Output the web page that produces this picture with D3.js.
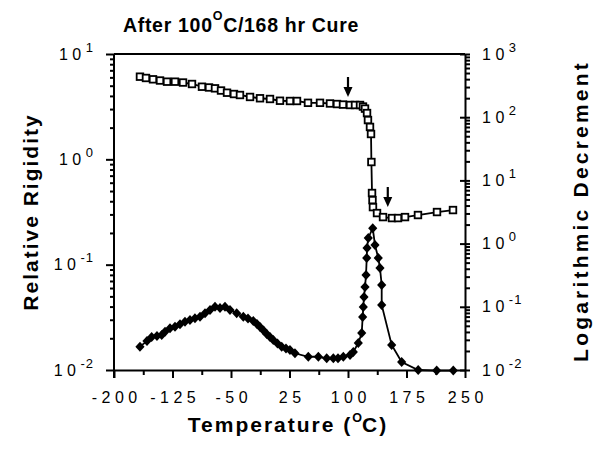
<!DOCTYPE html>
<html>
<head>
<meta charset="utf-8">
<script src="https://cdn.jsdelivr.net/npm/d3@7"></script>
<style>
  body { margin: 0; background: #fff; }
  text { font-family: "Liberation Sans", Arial, Helvetica, sans-serif; fill: #000; }
</style>
</head>
<body>
<script>
// relative rigidity - open squares, left axis
const rigidityTemp = [-166.7, -159, -150, -141, -132, -121.8, -111.5, -100, -87.2, -78.2, -70.5, -62.8, -55.1, -46.2,
  -38.5, -25.6, -12.8, 0, 12.8, 25.6, 34.6, 48.7, 64.1, 76.9, 85.9, 93.6, 102.6, 109, 115.4, 119.2, 121.8,
  124.4, 125.6, 128.2, 129.5, 130, 130.8, 131.4, 132, 137.2, 144.9, 156.4, 164.1, 173.1, 189.7, 214.1, 234.6];
const rigidityValue = [6.09, 5.92, 5.75, 5.6, 5.46, 5.46, 5.36, 5.19, 4.89, 4.81, 4.72, 4.5, 4.29, 4.17,
  4.08, 3.91, 3.8, 3.74, 3.6, 3.58, 3.58, 3.44, 3.44, 3.39, 3.35, 3.31, 3.28, 3.28, 3.28, 3.17, 3.03,
  2.75, 2.36, 2.03, 1.74, 0.943, 0.479, 0.41, 0.352, 0.309, 0.283, 0.277, 0.277, 0.283, 0.296, 0.316, 0.33];

// logarithmic decrement - filled diamonds, right axis
const decrementTemp = [-166.7, -157.7, -151.7, -144.9, -138.8, -134.6, -128.2, -121.8, -115.4, -109, -102.6, -96.2,
  -89.7, -83.3, -76.9, -70.5, -64.1, -57.7, -51.3, -42.7, -34.2, -28.2, -21.4, -16.7, -12.8, -8.3, -4.2, 0,
  4.2, 9.6, 15, 20.5, 25.6, 32, 49.1, 62, 72.7, 81.2, 87.2, 94, 102.6, 106.8, 113.2, 117.6, 118.8, 119.6,
  120.5, 121.8, 123.1, 124, 124.4, 126, 131.7, 134.6, 138.8, 141, 143.2, 143.2, 156, 168.8, 190, 213.7, 235];
const decrementValue = [0.0234, 0.0288, 0.0333, 0.0345, 0.0358, 0.0404, 0.0457, 0.0484, 0.0528, 0.0581, 0.0618, 0.0658,
  0.0697, 0.0789, 0.0889, 0.1004, 0.0957, 0.1004, 0.0889, 0.0789, 0.0697, 0.0653, 0.0596, 0.0534, 0.0479, 0.0422, 0.0371, 0.0333,
  0.0298, 0.0262, 0.0234, 0.0219, 0.0207, 0.0184, 0.0162, 0.0162, 0.0153, 0.0153, 0.0153, 0.0162, 0.0173, 0.0193, 0.0267, 0.0385, 0.069, 0.0993,
  0.143, 0.206, 0.318, 0.592, 0.851, 1.23, 1.75, 0.951, 0.592, 0.411, 0.221, 0.107, 0.0249, 0.0134, 0.01, 0.0098, 0.0098];

const xTickLabels = [-200, -125, -50, 25, 100, 175, 250];
const xMinorTicks = [-162.5, -87.5, -12.5, 62.5, 137.5, 212.5];
const leftExponents = [1, 0, -1, -2];
const rightExponents = [3, 2, 1, 0, -1, -2];

// arrows marking the transitions (temperature, top value, tip value on left axis)
const arrowTemp = [100, 151];
const arrowFrom = [6.05, 0.546];
const arrowTo = [3.9, 0.352];

const width = 596, height = 449;
const tickSpacing = 4.5;
const svg = d3.select("body").append("svg")
  .attr("width", width)
  .attr("height", height);

const x = d3.scaleLinear().domain([-200, 250]).range([114, 465]);
const yLeft = d3.scaleLog().domain([0.01, 10]).range([370, 54]);
const yRight = d3.scaleLog().domain([0.01, 1000]).range([370, 54]);

function superscript(sel, exps) {
  sel.selectAll(".tick text").each(function (d, i) {
    const t = d3.select(this);
    t.text("10");
    t.append("tspan").attr("dy", -8).attr("class", "sup").text(String(exps[i]));
  });
}

// top border
svg.append("line")
  .attr("x1", 114).attr("x2", 465)
  .attr("y1", 54).attr("y2", 54)
  .attr("stroke", "#000").attr("stroke-width", 2);

// left axis: minor then major
const leftMinor = yLeft.ticks().filter(d => Math.abs(Math.log10(d) % 1) > 1e-6);
svg.append("g")
  .attr("transform", "translate(114,0)")
  .call(d3.axisLeft(yLeft).tickValues(leftMinor).tickSize(4).tickFormat(""))
  .call(g => g.select(".domain").remove());
const leftAxis = svg.append("g")
  .attr("transform", "translate(114,0)")
  .call(d3.axisLeft(yLeft).tickValues(leftExponents.map(e => Math.pow(10, e))).tickSize(8).tickPadding(12).tickSizeOuter(0))
  .call(g => superscript(g, leftExponents));
leftAxis.select(".domain").attr("d", "M0,54V378");

// right axis
const rightMinor = yRight.ticks().filter(d => Math.abs(Math.log10(d) % 1) > 1e-6);
svg.append("g")
  .attr("transform", "translate(465,0)")
  .call(d3.axisRight(yRight).tickValues(rightMinor).tickSize(5).tickFormat(""))
  .call(g => g.select(".domain").remove());
const rightAxis = svg.append("g")
  .attr("transform", "translate(465,0)")
  .call(d3.axisRight(yRight).tickValues(rightExponents.map(e => Math.pow(10, e))).tickSize(5).tickPadding(12).tickSizeOuter(0))
  .call(g => superscript(g, rightExponents));
rightAxis.selectAll(".tick line").attr("x1", -5);

// bottom axis
svg.append("g")
  .attr("transform", "translate(0,370)")
  .call(d3.axisBottom(x).tickValues(xMinorTicks).tickSize(5).tickFormat(""))
  .call(g => g.select(".domain").remove());
const bottomAxis = svg.append("g")
  .attr("transform", "translate(0,370)")
  .call(d3.axisBottom(x).tickValues(xTickLabels).tickSize(8).tickSizeOuter(0).tickFormat(d => String(d)));
bottomAxis.selectAll(".tick text").attr("y", 22).attr("dy", "0.71em").attr("dx", tickSpacing / 2);

svg.selectAll(".domain, .tick line").attr("stroke", "#000").attr("stroke-width", 2);
svg.selectAll(".tick text")
  .attr("font-family", "'Liberation Sans', Arial, sans-serif")
  .attr("font-size", 16)
  .attr("letter-spacing", tickSpacing)
  .attr("fill", "#000");
svg.selectAll(".tick text .sup").attr("font-size", 13).attr("letter-spacing", 1);

// curves
const rigidity = rigidityTemp.map((t, i) => ({ t, v: rigidityValue[i] }));
const decrement = decrementTemp.map((t, i) => ({ t, v: decrementValue[i] }));

svg.append("path")
  .datum(decrement)
  .attr("fill", "none").attr("stroke", "#000").attr("stroke-width", 1.8)
  .attr("d", d3.line().x(d => x(d.t)).y(d => yRight(d.v)));

svg.selectAll(".diamond")
  .data(decrement)
  .enter().append("path")
  .attr("class", "diamond")
  .attr("transform", d => `translate(${x(d.t)},${yRight(d.v)})`)
  .attr("d", "M0,-5L4.6,0L0,5L-4.6,0Z")
  .attr("fill", "#000");

svg.append("path")
  .datum(rigidity)
  .attr("fill", "none").attr("stroke", "#000").attr("stroke-width", 1.8)
  .attr("d", d3.line().x(d => x(d.t)).y(d => yLeft(d.v)));

svg.selectAll(".square")
  .data(rigidity)
  .enter().append("rect")
  .attr("class", "square")
  .attr("x", d => x(d.t) - 3.3)
  .attr("y", d => yLeft(d.v) - 3.3)
  .attr("width", 6.6).attr("height", 6.6)
  .attr("fill", "#fff").attr("stroke", "#000").attr("stroke-width", 1.8);

// arrows
arrowTemp.forEach((t, i) => {
  const ax = x(t), y0 = yLeft(arrowFrom[i]), y1 = yLeft(arrowTo[i]);
  svg.append("line")
    .attr("x1", ax).attr("x2", ax).attr("y1", y0).attr("y2", y1 - 8)
    .attr("stroke", "#000").attr("stroke-width", 2.2);
  svg.append("path")
    .attr("d", `M${ax - 4.5},${y1 - 10}L${ax + 4.5},${y1 - 10}L${ax},${y1}Z`)
    .attr("fill", "#000");
});

// titles
const title = svg.append("text")
  .attr("x", 241).attr("y", 32)
  .attr("text-anchor", "middle")
  .attr("font-size", 19.5).attr("font-weight", "bold").attr("letter-spacing", 0.7);
title.append("tspan").text("After 100");
title.append("tspan").attr("dy", -12).attr("font-size", 12.5).text("O");
title.append("tspan").attr("dy", 12).text("C/168 hr Cure");

const xTitle = svg.append("text")
  .attr("x", 288).attr("y", 432)
  .attr("text-anchor", "middle")
  .attr("font-size", 21).attr("font-weight", "bold").attr("letter-spacing", 2);
xTitle.append("tspan").text("Temperature (");
xTitle.append("tspan").attr("dy", -10).attr("font-size", 12.5).attr("letter-spacing", 0).text("O");
xTitle.append("tspan").attr("dy", 10).text("C)");

svg.append("text")
  .attr("transform", "translate(38,212) rotate(-90)")
  .attr("text-anchor", "middle")
  .attr("font-size", 21).attr("font-weight", "bold").attr("letter-spacing", 2)
  .text("Relative Rigidity");

svg.append("text")
  .attr("transform", "translate(588,211) rotate(-90)")
  .attr("text-anchor", "middle")
  .attr("font-size", 21).attr("font-weight", "bold").attr("letter-spacing", 3.2)
  .text("Logarithmic Decrement");
</script>
</body>
</html>
